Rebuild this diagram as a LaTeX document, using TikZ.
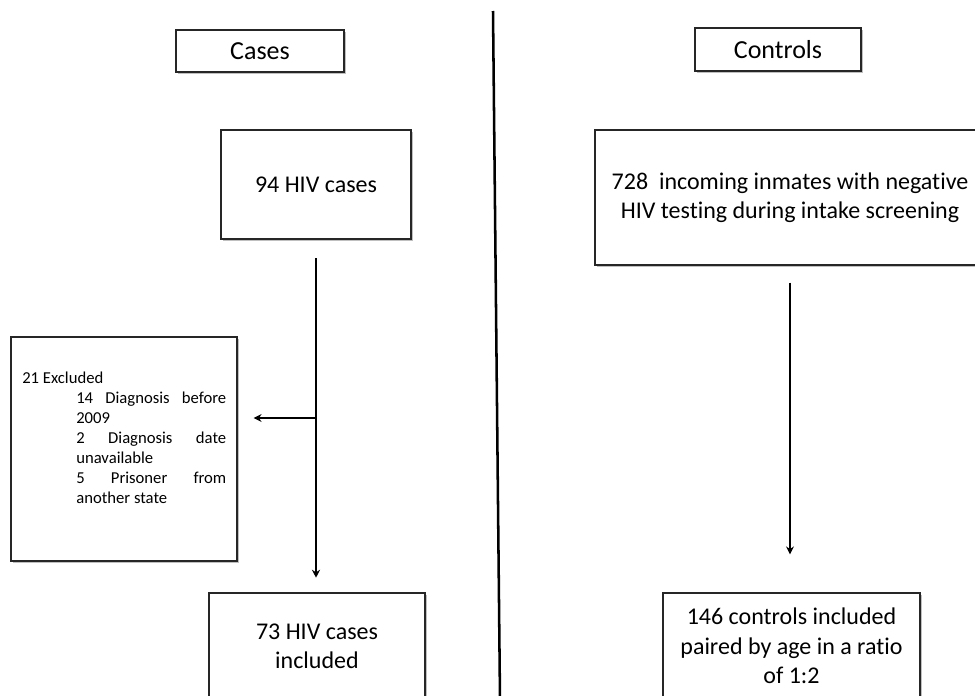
\documentclass[tikz,border=0pt]{standalone}
\usepackage{fontspec}
\setmainfont{Carlito}[Ligatures=NoCommon]
\usepackage{tikz}
\usetikzlibrary{arrows.meta,shadows}

\begin{document}
\begin{tikzpicture}[x=0.75pt,y=0.75pt,yscale=-1,xscale=1,
  box/.style={draw=black!85,line width=0.9pt,fill=white,inner sep=0pt,align=center,
    drop shadow={shadow xshift=1.2pt,shadow yshift=-1.5pt,opacity=0.25,fill=black}},
  flow/.style={line width=2pt,-{Stealth[length=6pt,width=6pt]}},
  big/.style={font=\fontsize{18}{22}\selectfont},
  head/.style={font=\fontsize{19.5}{23}\selectfont}]

\useasboundingbox (0,0) rectangle (975,696);
\clip (0,0) rectangle (975,696);

\coordinate (divtop) at (493,11);
\coordinate (divbot) at (500,700);
\draw [line width=1.9pt] (divtop) -- (divbot) ;

\node [box,head,minimum width=126pt,minimum height=31.5pt] (cases) at (260,51) {Cases};

\node [box,head,minimum width=124.5pt,minimum height=32.25pt] (controls) at (778,49.5) {Controls};

\node [box,big,minimum width=142.5pt,minimum height=81.75pt] (hiv94) at (316,184.5) {94 HIV cases};

\node [box,big,minimum width=292.5pt,minimum height=101.25pt] (neg728) at (790,197.5) {728\ \ incoming inmates with negative\\HIV testing during intake screening};

\node [box,minimum width=169.5pt,minimum height=168pt] (excl) at (124,449) {};

\node [anchor=north west,inner sep=0pt,font=\fontsize{12.5}{15}\selectfont] (exhead) at (22,372) {21 Excluded};

\node [anchor=north west,inner sep=0pt,text width=112.5pt,align=justify,
  font=\fontsize{12.5}{15}\selectfont] (exlist) at (76,392)
  {\hyphenpenalty=10000\relax\tolerance=10000\relax
   14 Diagnosis before 2009\par 2 Diagnosis date unavailable\par 5 Prisoner from another state\par};

\node [box,big,minimum width=162pt,minimum height=79.5pt] (hiv73) at (317,646) {73 HIV cases\\included};

\node [box,big,minimum width=192.75pt,minimum height=79.5pt] (ctrl146) at (791.5,646) {146 controls included\\paired by age in a ratio\\of 1:2};

\draw [flow,shorten <=14pt,shorten >=11pt] (hiv94) -- (hiv94 |- hiv73.north) ;

\coordinate (split) at (316,418);
\draw [flow,shorten >=12pt] (split) -- (split -| excl.east) ;

\draw [flow,shorten <=12.75pt,shorten >=28.5pt] (neg728) -- (neg728 |- ctrl146.north) ;

\end{tikzpicture}
\end{document}
